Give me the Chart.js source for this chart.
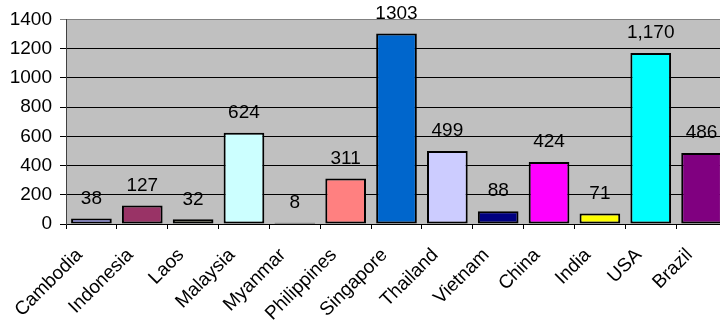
<!DOCTYPE html>
<html>
<head>
<meta charset="utf-8">
<script src="https://cdn.jsdelivr.net/npm/chart.js@4/dist/chart.umd.min.js"></script>
<style>
  html, body { margin: 0; padding: 0; background: #ffffff; overflow: hidden; }
  #wrap { width: 740px; height: 321px; }
</style>
</head>
<body>
<div id="wrap"><canvas id="c" width="740" height="321"></canvas></div>
<script>
// Countries along the category axis
const countries = ['Cambodia', 'Indonesia', 'Laos', 'Malaysia', 'Myanmar', 'Philippines',
  'Singapore', 'Thailand', 'Vietnam', 'China', 'India', 'USA', 'Brazil'];

// Value of each country's bar
const values = [38, 127, 32, 624, 8, 311, 1303, 499, 88, 424, 71, 1170, 486];

// Whether the value label uses a thousands separator
const groupDigits = [false, false, false, false, false, false, false, false, false, false, false, true, false];

// Fill colour of each bar
const barColors = ['#9999FF', '#993366', '#FFFFCC', '#CCFFFF', '#000000', '#FF8080',
  '#0066CC', '#CCCCFF', '#000080', '#FF00FF', '#FFFF00', '#00FFFF', '#800080'];

// Value axis ticks
const yTicks = [0, 200, 400, 600, 800, 1000, 1200, 1400];

const FONT = 'Arial, "Liberation Sans", sans-serif';

// Grey plot background behind the bars
const plotBackground = {
  id: 'plotBackground',
  beforeDraw(chart) {
    const { ctx, chartArea: a } = chart;
    ctx.save();
    ctx.fillStyle = '#C0C0C0';
    ctx.fillRect(a.left, a.top, a.right - a.left, a.bottom - a.top);
    ctx.restore();
  }
};

// Number printed above each bar
const valueLabels = {
  id: 'valueLabels',
  afterDatasetsDraw(chart) {
    const { ctx } = chart;
    const meta = chart.getDatasetMeta(0);
    ctx.save();
    ctx.font = '19px ' + FONT;
    ctx.fillStyle = '#000000';
    ctx.textAlign = 'center';
    ctx.textBaseline = 'middle';
    meta.data.forEach((bar, i) => {
      const v = values[i];
      const txt = groupDigits[i] ? v.toLocaleString('en-US') : String(v);
      ctx.fillText(txt, bar.x, bar.y - 20);
    });
    ctx.restore();
  }
};

new Chart(document.getElementById('c'), {
  type: 'bar',
  data: {
    labels: countries,
    datasets: [{
      data: values,
      backgroundColor: barColors,
      borderColor: '#000000',
      borderWidth: 2,
      borderSkipped: false,
      barPercentage: 0.8,
      categoryPercentage: 1.0
    }]
  },
  options: {
    responsive: false,
    animation: false,
    layout: { padding: { top: 19, right: 13, bottom: 0, left: 0 } },
    plugins: {
      legend: { display: false },
      tooltip: { enabled: false }
    },
    scales: {
      x: {
        grid: {
          offset: true,
          drawOnChartArea: false,
          drawTicks: true,
          tickLength: 5,
          color: '#000000'
        },
        border: { display: true, color: '#000000', width: 1 },
        ticks: {
          autoSkip: false,
          minRotation: 45,
          maxRotation: 45,
          padding: 15,
          labelOffset: -12,
          color: '#000000',
          font: { family: FONT, size: 19 }
        },
        afterFit(scale) { scale.height = 97; }
      },
      y: {
        min: 0,
        max: 1400,
        afterBuildTicks(scale) { scale.ticks = yTicks.map(v => ({ value: v })); },
        grid: {
          color: (c) => (c.tick && c.tick.value === 1400) ? '#808080' : '#000000',
          lineWidth: 1,
          tickLength: 6,
          drawTicks: true
        },
        border: { display: true, color: '#404040', width: 1 },
        ticks: {
          padding: 8,
          color: '#000000',
          font: { family: FONT, size: 19 },
          callback: (v) => String(v)
        },
        afterFit(scale) { scale.width = 66; }
      }
    }
  },
  plugins: [plotBackground, valueLabels]
});
</script>
</body>
</html>
